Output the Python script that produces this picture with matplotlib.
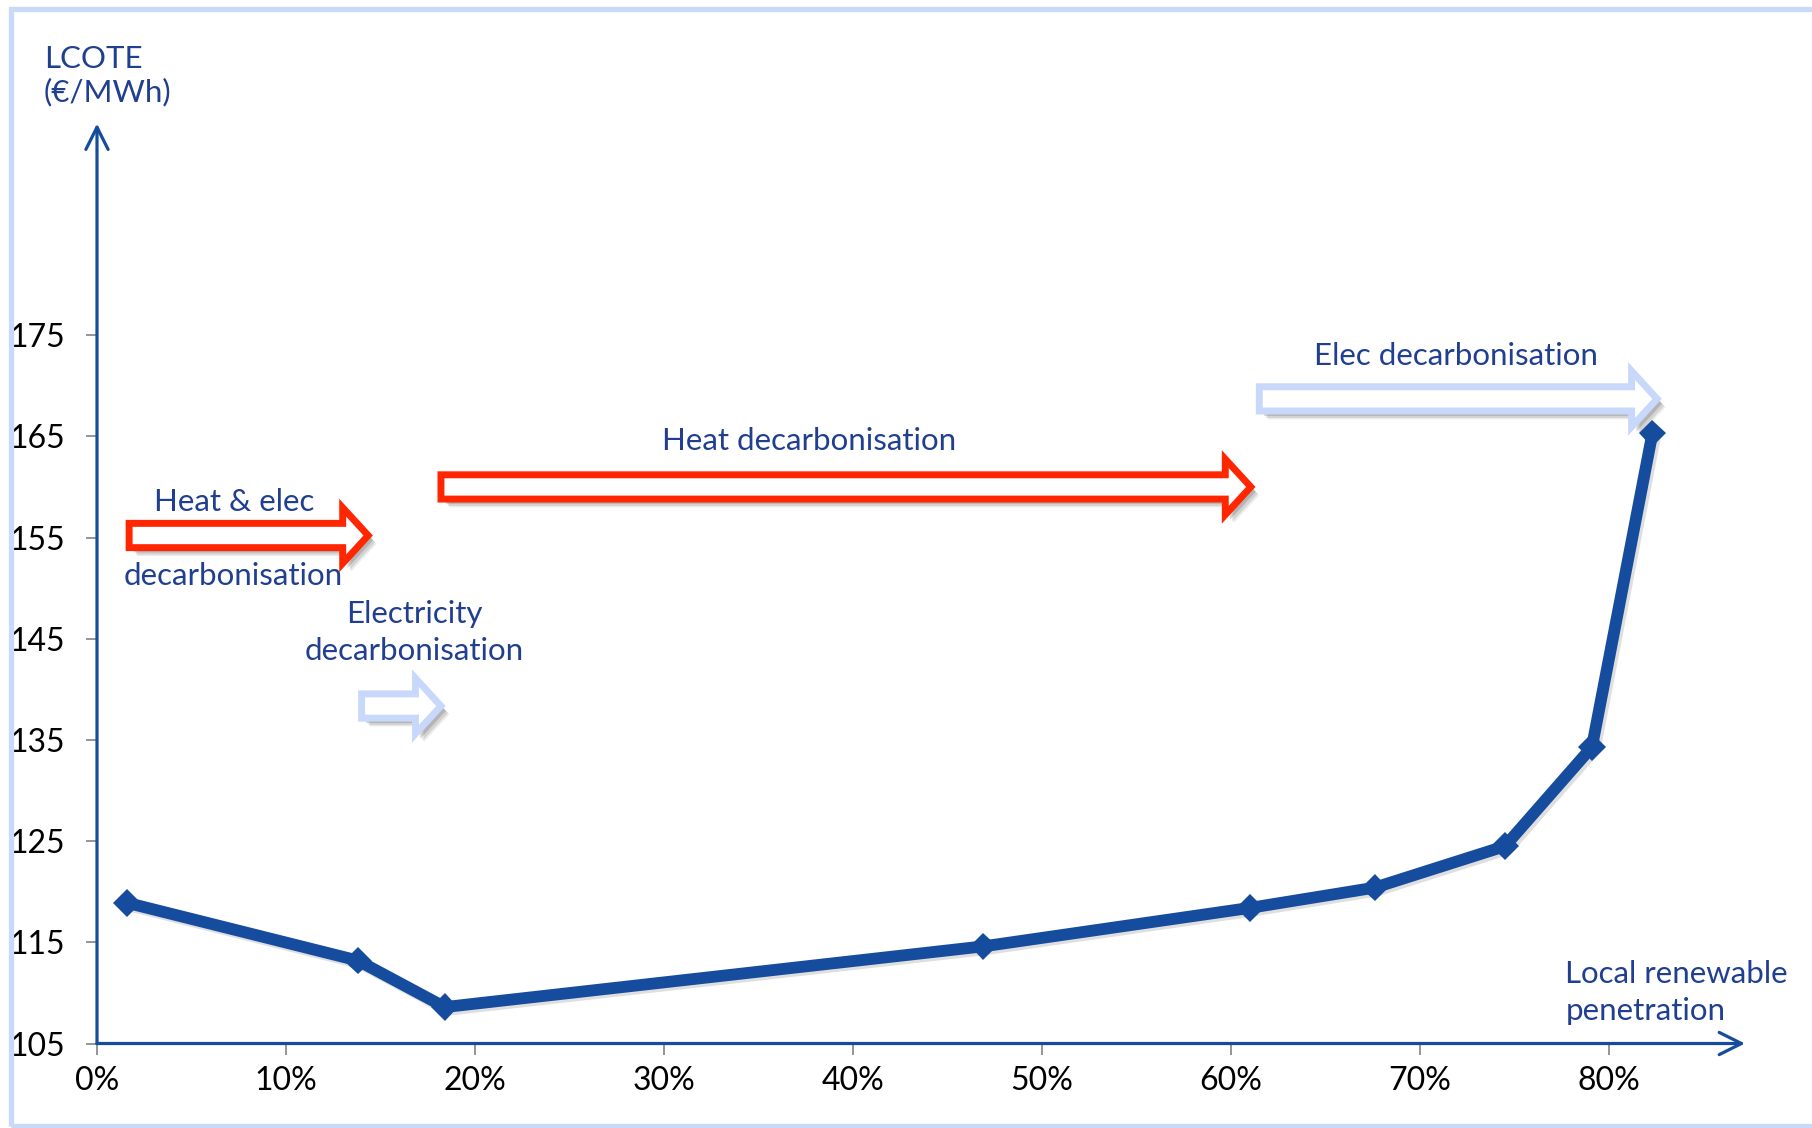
import matplotlib
matplotlib.use("Agg")
import matplotlib.pyplot as plt
import matplotlib.patheffects as pe
from matplotlib.patches import Polygon, Rectangle
from matplotlib.ticker import FuncFormatter

# ---------- data ----------
penetration = [1.6, 13.8, 18.4, 46.9, 61.0, 67.6, 74.5, 79.1, 82.3]   # %
lcote = [118.9, 113.2, 108.6, 114.6, 118.4, 120.4, 124.5, 134.3, 165.3]  # EUR/MWh

y_ticks = [105, 115, 125, 135, 145, 155, 165, 175]
x_ticks = [0, 10, 20, 30, 40, 50, 60, 70, 80]

# phase arrows: (start %, end %, level, kind)
phase_arrows = [
    (1.7, 14.35, 155.2, "heat"),
    (18.2, 61.05, 160.0, "heat"),
    (14.0, 18.2, 138.35, "elec"),
    (61.5, 82.55, 168.7, "elec"),
]

# ---------- style ----------
NAVY = "#213f91"
LINE = "#164c9d"
RED = "#ff2600"
PALE = "#c8d8fa"
FONT = ["Lato", "DejaVu Sans"]
TICKFONT = ["Liberation Sans Narrow", "Lato", "DejaVu Sans"]

plt.rcParams["font.family"] = FONT

fig = plt.figure(figsize=(18.12, 11.28), dpi=100)
ax = fig.add_axes([0.05353, 0.0749, 0.9095, 0.8155])
ax.set_xlim(0, 87.2)
ax.set_ylim(105, 195.9)

for s in ax.spines.values():
    s.set_visible(False)

# axes drawn as arrows
arrow_kw = dict(arrowstyle="->", lw=2.3, color=LINE, mutation_scale=40,
                shrinkA=0, shrinkB=0)
ax.annotate("", xy=(0, 1), xytext=(0, 0), xycoords="axes fraction",
            arrowprops=arrow_kw, annotation_clip=False)
ax.annotate("", xy=(1, 0), xytext=(0, 0), xycoords="axes fraction",
            arrowprops=arrow_kw, annotation_clip=False)

ax.set_yticks(y_ticks)
ax.set_xticks(x_ticks)
ax.xaxis.set_major_formatter(FuncFormatter(lambda v, p: f"{v:.0f}%"))
ax.tick_params(axis="y", length=8, width=1.3, color="#8c8c8c", pad=15,
               labelsize=23, labelcolor="black")
ax.tick_params(axis="x", length=8, width=1.3, color="#8c8c8c", pad=8,
               labelsize=23, labelcolor="black")
for lab in ax.get_xticklabels() + ax.get_yticklabels():
    lab.set_family(TICKFONT)


# ---------- outlined block arrows ----------
BODY = 1.2     # half height of the shaft, in y units
HEAD = 2.75    # half height of the head
HEAD_LEN = 1.35  # head length, in x units


def block_arrow(x0, x1, yc, color):
    xb = x1 - HEAD_LEN
    pts = [(x0, yc - BODY), (xb, yc - BODY), (xb, yc - HEAD), (x1, yc),
           (xb, yc + HEAD), (xb, yc + BODY), (x0, yc + BODY)]
    poly = Polygon(pts, closed=True, facecolor="white", edgecolor=color,
                   lw=5, joinstyle="miter", zorder=3, clip_on=False)
    poly.set_path_effects([
        pe.SimplePatchShadow(offset=(6, -6), shadow_rgbFace="0.4", alpha=0.12),
        pe.SimplePatchShadow(offset=(5, -5), shadow_rgbFace="0.4", alpha=0.18),
        pe.SimplePatchShadow(offset=(3.5, -3.5), shadow_rgbFace="0.4", alpha=0.28),
        pe.Normal(),
    ])
    ax.add_patch(poly)


for x0, x1, yc, kind in phase_arrows:
    block_arrow(x0, x1, yc, RED if kind == "heat" else PALE)

# ---------- cost curve ----------
ax.plot(penetration, lcote, color=LINE, lw=8.5, marker="D", markersize=14,
        markeredgewidth=0, solid_joinstyle="round", zorder=4, clip_on=False,
        path_effects=[pe.SimpleLineShadow(offset=(2, -2), shadow_color="0.5",
                                          alpha=0.25), pe.Normal()])

# ---------- labels ----------
txt = dict(color=NAVY, fontsize=22.5, ha="center", va="baseline")
ax.text(7.25, 157.6, "Heat & elec", **txt)
ax.text(7.2, 150.3, "decarbonisation", **txt)
ax.text(16.8, 146.55, "Electricity", **txt)
ax.text(16.8, 142.9, "decarbonisation", **txt)
ax.text(37.7, 163.65, "Heat decarbonisation", **txt)
ax.text(71.9, 172.0, "Elec decarbonisation", **txt)
ax.text(77.7, 110.98, "Local renewable", color=NAVY, fontsize=22.5,
        ha="left", va="baseline")
ax.text(77.7, 107.3, "penetration", color=NAVY, fontsize=22.5,
        ha="left", va="baseline")

fig.text(0.0243, 0.960, "LCOTE\n(€/MWh)", color=NAVY, fontsize=22.5,
         ha="left", va="top", linespacing=1.2)

# light frame round the figure
fig.patches.append(Rectangle((0.0058, 0.0022), 1.5, 0.9894,
                             transform=fig.transFigure, fill=False,
                             edgecolor="#c9daf8", lw=3.8))

fig.savefig("out.png", dpi=100, facecolor="white")
